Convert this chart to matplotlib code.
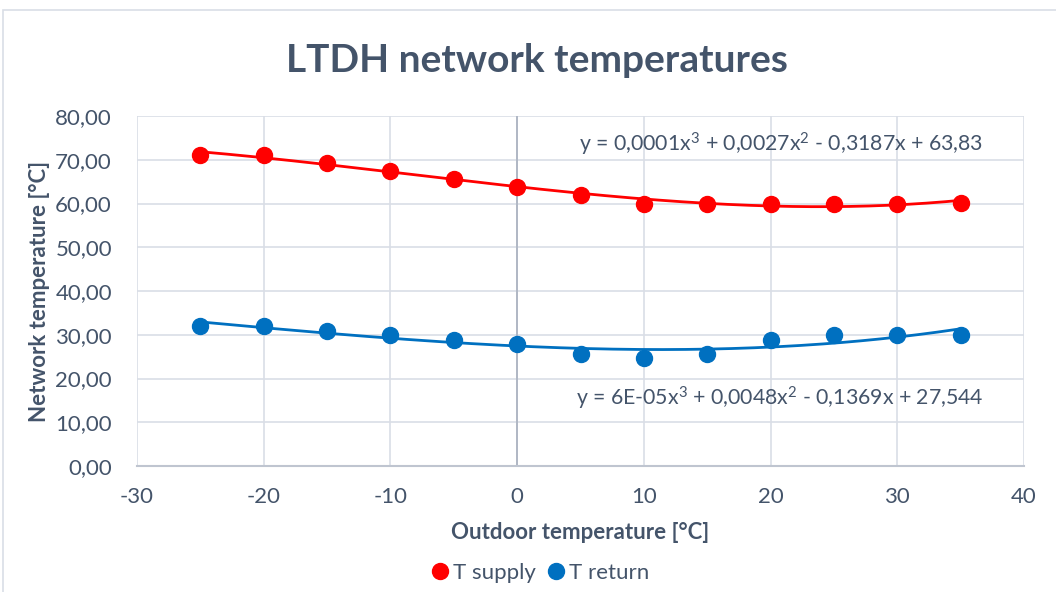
import numpy as np
import matplotlib
matplotlib.use("Agg")
import matplotlib.pyplot as plt
from matplotlib.ticker import FuncFormatter, MultipleLocator
from matplotlib.patches import Rectangle
from matplotlib.lines import Line2D

# Data
outdoor = [-25, -20, -15, -10, -5, 0, 5, 10, 15, 20, 25, 30, 35]
t_supply = [71.2, 71.0, 69.3, 67.4, 65.6, 63.8, 61.9, 60.0, 60.0, 60.0, 60.0, 60.0, 60.1]
t_return = [32.1, 32.0, 30.9, 29.9, 28.8, 27.8, 25.6, 24.6, 25.6, 28.8, 30.0, 30.0, 30.0]
eq_supply = r"y = 0,0001x$^3$ + 0,0027x$^2$ - 0,3187x + 63,83"
eq_return = r"y = 6E-05x$^3$ + 0,0048x$^2$ - 0,1369x + 27,544"

RED = "#FF0000"
BLUE = "#0070C0"
TXT = "#44546A"
GRID = "#D9DEE6"

plt.rcParams['font.family'] = ['Lato', 'DejaVu Sans']
plt.rcParams['axes.unicode_minus'] = False
plt.rcParams['mathtext.fontset'] = 'custom'
plt.rcParams['mathtext.rm'] = 'Lato'
plt.rcParams['mathtext.it'] = 'Lato'
plt.rcParams['mathtext.bf'] = 'Lato:bold'
plt.rcParams['mathtext.default'] = 'regular'

fig = plt.figure(figsize=(10.56, 5.92), dpi=100)
ax = fig.add_axes([137/1056, 1-466/592, (1024-137)/1056, (466-116)/592])

# chart border
fig.patches.append(Rectangle((3/1056, -0.1), 1.2, 1-10/592+0.1, transform=fig.transFigure,
                             fill=False, edgecolor="#D9DEE6", linewidth=1.2))

x = np.array(outdoor, dtype=float)
xs = np.linspace(min(outdoor), max(outdoor), 200)
for y, c in [(t_supply, RED), (t_return, BLUE)]:
    coef = np.polyfit(x, np.array(y), 3)
    ax.plot(xs, np.polyval(coef, xs), color=c, lw=2.0, zorder=3)
    ax.plot(outdoor, y, 'o', color=c, ms=11.5, zorder=4)

ax.set_xlim(-30, 40)
ax.set_ylim(0, 80)
ax.xaxis.set_major_locator(MultipleLocator(10))
ax.yaxis.set_major_locator(MultipleLocator(10))
ax.yaxis.set_major_formatter(FuncFormatter(lambda v, p: f"{v:.2f}".replace('.', ',')))
ax.grid(True, color=GRID, lw=1.2, zorder=0)
ax.set_axisbelow(True)
for s in ['top', 'right', 'left']:
    ax.spines[s].set_visible(False)
ax.spines['bottom'].set_color("#BFC5D0")
ax.spines['bottom'].set_linewidth(1.5)
ax.axvline(0, color="#ADB4C2", lw=1.3, zorder=1)
ax.tick_params(length=0, labelsize=16, labelcolor=TXT)
ax.tick_params(axis='y', pad=18)
ax.tick_params(axis='x', pad=15)

ax.set_xlabel("Outdoor temperature [°C]", fontsize=16, fontweight='bold', color=TXT, labelpad=11)
ax.set_ylabel("Network temperature [°C]", fontsize=16, fontweight='bold', color=TXT, labelpad=4)

fig.text(537/1056, 1-60/592, "LTDH network temperatures", ha='center', va='center',
         fontsize=28, fontweight='bold', color=TXT)

ax.text(36.8, 73.6, eq_supply, ha='right', va='center', fontsize=15.3, color=TXT)
ax.text(36.8, 15.5, eq_return, ha='right', va='center', fontsize=15.3, color=TXT)

handles = [Line2D([], [], marker='o', ls='none', color=RED, ms=11.5),
           Line2D([], [], marker='o', ls='none', color=BLUE, ms=11.5)]
fig.legend(handles, ["T supply", "T return"], loc='center', bbox_to_anchor=(538/1056, 1-573/592),
           ncol=2, frameon=False, fontsize=16, labelcolor=TXT, handletextpad=0.0,
           columnspacing=0.3, handlelength=1.2)

fig.savefig("out.png", dpi=100)
